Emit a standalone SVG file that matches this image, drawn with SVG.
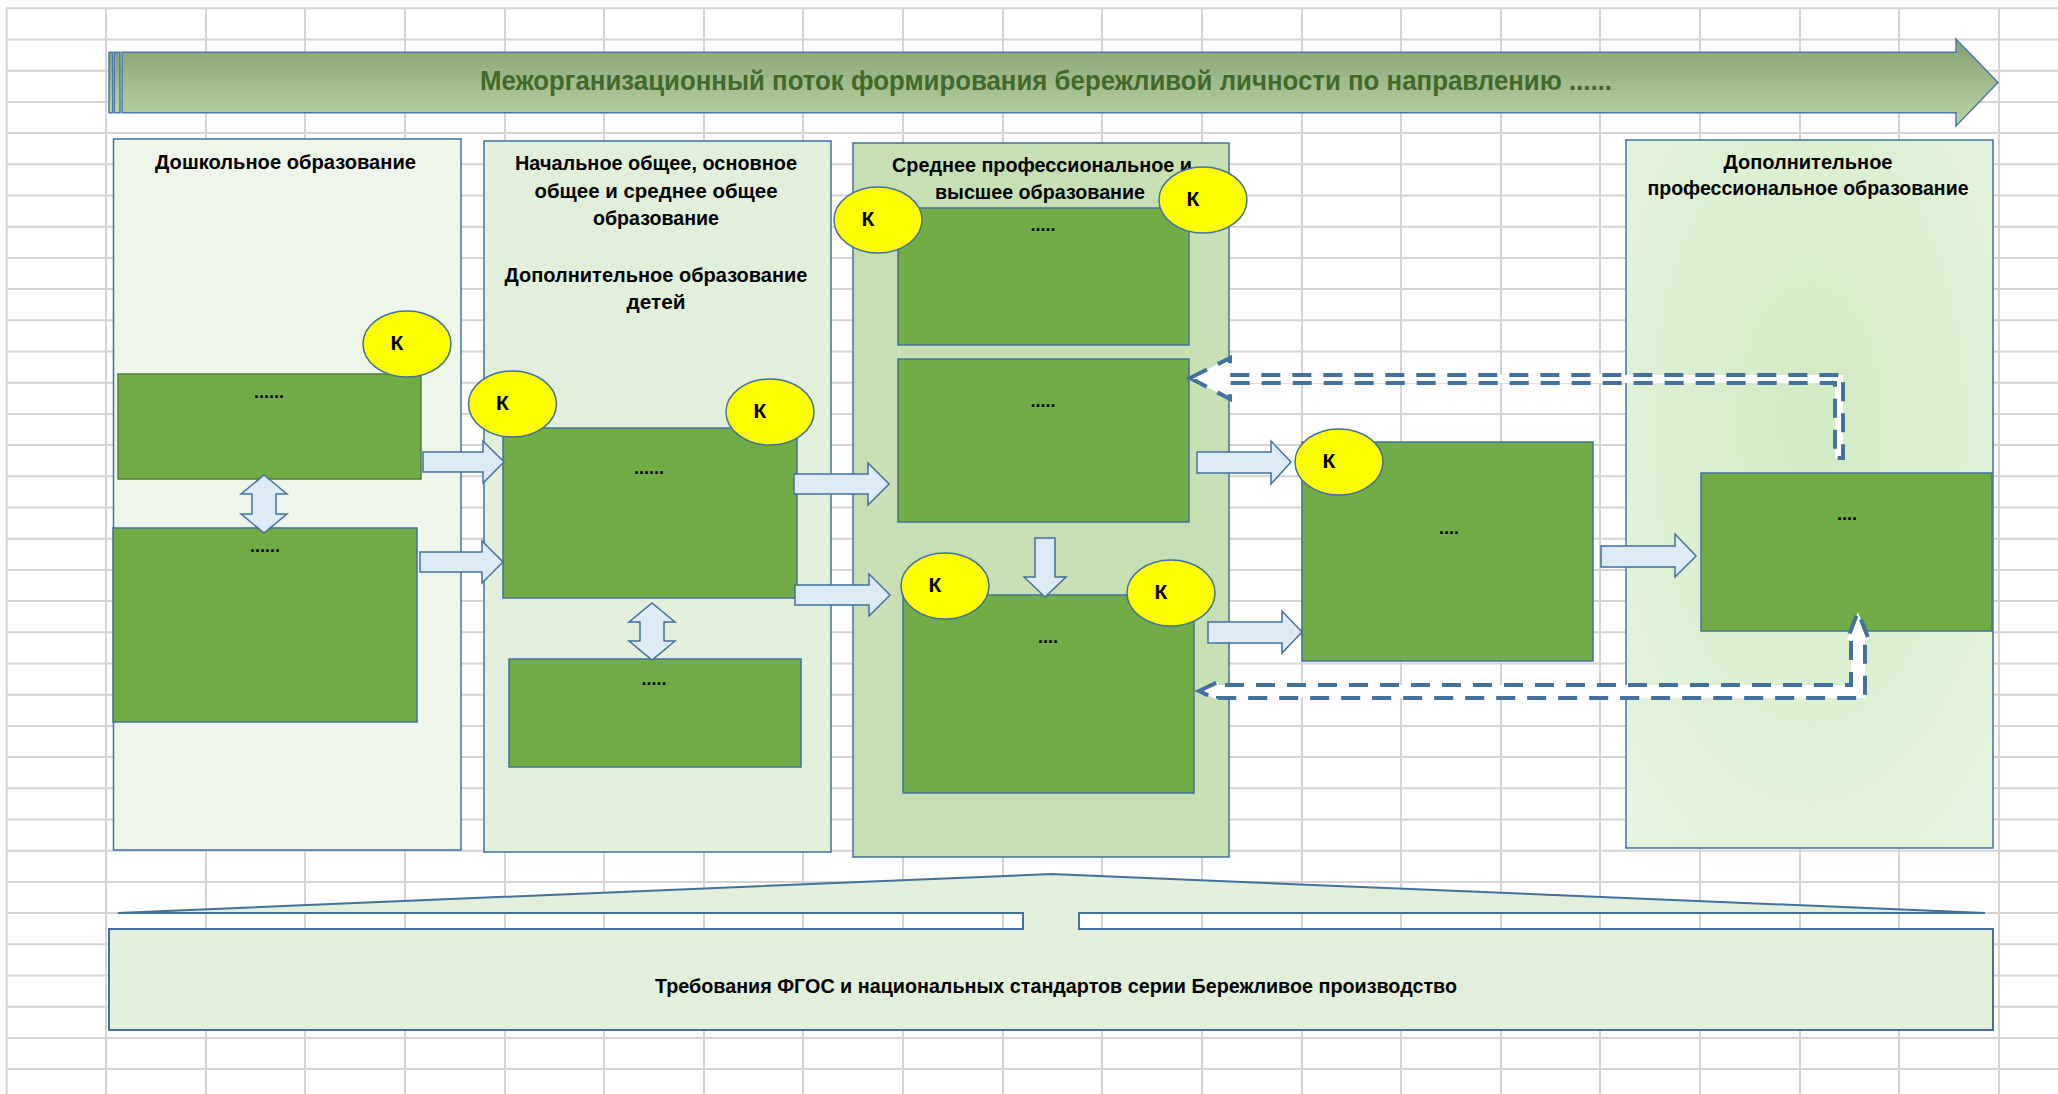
<svg xmlns="http://www.w3.org/2000/svg" width="2058" height="1094" viewBox="0 0 2058 1094">
<defs>
<linearGradient id="hdr" x1="0" y1="0" x2="0" y2="1"><stop offset="0" stop-color="#84a073"/><stop offset="1" stop-color="#bad7a2"/></linearGradient>
<radialGradient id="p4g" cx="0.5" cy="0.4" r="0.75"><stop offset="0" stop-color="#d0ebc2"/><stop offset="1" stop-color="#e7f4e0"/></radialGradient>
</defs>
<style>
.grid{stroke:#d4d4d4;stroke-width:2;fill:none}
.panel{stroke:#41719C;stroke-width:1.5}
.box{fill:#70AD47;stroke:#41719C;stroke-width:1.5}
.boxg{fill:#70AD47;stroke:#507E32;stroke-width:1.5}
.k{fill:#FFFF00;stroke:#41719C;stroke-width:1.5}
.blk{fill:#DDEBF7;stroke:#41719C;stroke-width:1.5}
.dash{fill:#fff;stroke:#41719C;stroke-width:4;stroke-dasharray:19 12}
.t{font-family:"Liberation Sans",Arial,sans-serif;font-weight:bold;fill:#000;text-anchor:middle}
.title{font-size:21px}
.dots{font-size:18px}
.kt{font-size:21px}
</style>

<g id="grid">
<path class="grid" d="M6.7,8 V1094 M106,8 V1094 M206,8 V1094 M305,8 V1094 M405,8 V1094 M505,8 V1094 M604,8 V1094 M704,8 V1094 M803,8 V1094 M903,8 V1094 M1003,8 V1094 M1102,8 V1094 M1202,8 V1094 M1302,8 V1094 M1401,8 V1094 M1501,8 V1094 M1600,8 V1094 M1700,8 V1094 M1800,8 V1094 M1899,8 V1094 M1999,8 V1094
M6,8.3 H2058 M6,39.5 H2058 M6,70.7 H2058 M6,101.9 H2058 M6,133.1 H2058 M6,164.3 H2058 M6,195.5 H2058 M6,226.7 H2058 M6,257.9 H2058 M6,289.1 H2058 M6,320.3 H2058 M6,351.5 H2058 M6,382.7 H2058 M6,413.9 H2058 M6,445.1 H2058 M6,476.3 H2058 M6,507.5 H2058 M6,538.7 H2058 M6,569.9 H2058 M6,601.1 H2058 M6,632.3 H2058 M6,663.5 H2058 M6,694.7 H2058 M6,725.9 H2058 M6,757.1 H2058 M6,788.3 H2058 M6,819.5 H2058 M6,850.7 H2058 M6,881.9 H2058 M6,913.1 H2058 M6,944.3 H2058 M6,975.5 H2058 M6,1006.7 H2058 M6,1037.9 H2058 M6,1069.1 H2058"/>
</g>

<g id="header">
<rect x="109" y="52.3" width="3.7" height="60.4" fill="url(#hdr)" stroke="#4a78a8" stroke-width="1.5"/>
<rect x="114.3" y="52.3" width="5.7" height="60.4" fill="url(#hdr)" stroke="#4a78a8" stroke-width="1.5"/>
<path d="M122,52.3 H1956 V39 L1998,82.5 L1956,126 V112.7 H122 Z" fill="url(#hdr)" stroke="#4a78a8" stroke-width="1.5"/>
<text class="t" x="1046" y="90" font-size="27" style="fill:#416a2a" textLength="1132" lengthAdjust="spacingAndGlyphs">Межорганизационный поток формирования бережливой личности по направлению ......</text>
</g>

<g id="panel-preschool">
<rect class="panel" x="113.5" y="139" width="347.5" height="711" fill="#eef5ea"/>
<text class="t title" x="285.5" y="169" textLength="261" lengthAdjust="spacingAndGlyphs">Дошкольное образование</text>
</g>
<g id="panel-school">
<rect class="panel" x="484" y="141" width="347" height="711" fill="#e2efda"/>
<text class="t title" x="656" y="170" textLength="282" lengthAdjust="spacingAndGlyphs">Начальное общее, основное</text>
<text class="t title" x="656" y="198" textLength="243" lengthAdjust="spacingAndGlyphs">общее и среднее общее</text>
<text class="t title" x="656" y="225" textLength="126" lengthAdjust="spacingAndGlyphs">образование</text>
<text class="t title" x="656" y="282" textLength="303" lengthAdjust="spacingAndGlyphs">Дополнительное образование</text>
<text class="t title" x="656" y="309" textLength="59" lengthAdjust="spacingAndGlyphs">детей</text>
</g>
<g id="panel-prof">
<rect class="panel" x="853" y="143" width="376" height="714" fill="#c6e0b4"/>
<text class="t title" x="1042" y="172" textLength="300" lengthAdjust="spacingAndGlyphs">Среднее профессиональное и</text>
<text class="t title" x="1040" y="199" textLength="210" lengthAdjust="spacingAndGlyphs">высшее образование</text>
</g>
<g id="panel-dpo">
<rect class="panel" x="1626" y="140" width="367" height="708" fill="url(#p4g)"/>
<text class="t title" x="1808" y="169" textLength="169" lengthAdjust="spacingAndGlyphs">Дополнительное</text>
<text class="t title" x="1808" y="195" textLength="321" lengthAdjust="spacingAndGlyphs">профессиональное образование</text>
</g>

<g id="box-a1"><rect class="boxg" x="118" y="374" width="303" height="105"/><text class="t dots" x="269" y="398">......</text></g>
<g id="box-a2"><rect class="box" x="113" y="528" width="304" height="194"/><text class="t dots" x="265" y="552">......</text></g>
<g id="box-b1"><rect class="box" x="503" y="428" width="294" height="170"/><text class="t dots" x="649" y="474">......</text></g>
<g id="box-b2"><rect class="box" x="509" y="659" width="292" height="108"/><text class="t dots" x="654" y="685">.....</text></g>
<g id="box-c1"><rect class="box" x="898" y="208" width="291" height="137"/><text class="t dots" x="1043" y="231">.....</text></g>
<g id="box-c2"><rect class="box" x="898" y="359" width="291" height="163"/><text class="t dots" x="1043" y="407">.....</text></g>
<g id="box-c3"><rect class="box" x="903" y="595" width="291" height="198"/><text class="t dots" x="1048" y="643">....</text></g>
<g id="box-d"><rect class="box" x="1302" y="442" width="291" height="219"/><text class="t dots" x="1449" y="534">....</text></g>
<g id="box-e"><rect class="box" x="1701" y="473" width="291" height="158"/><text class="t dots" x="1847" y="520">....</text></g>

<g id="connectors">
<path class="blk" d="M423,452 H483 V441 L504,462 L483,483 V472 H423 Z"/>
<path class="blk" d="M420,552 H482 V541 L503,562 L482,583 V572 H420 Z"/>
<path class="blk" d="M794,474 H868 V463 L889,484 L868,505 V494 H794 Z"/>
<path class="blk" d="M795,585 H869 V574 L890,595 L869,616 V605 H795 Z"/>
<path class="blk" d="M1197,452 H1271 V441 L1291,462 L1271,484 V473 H1197 Z"/>
<path class="blk" d="M1208,622 H1282 V611 L1302,632 L1282,653 V643 H1208 Z"/>
<path class="blk" d="M1601,546 H1675 V534 L1696,556 L1675,577 V567 H1601 Z"/>
<path class="blk" d="M1035,538 H1055 V577 H1066 L1045,597 L1024,577 H1035 Z"/>
<path class="blk" d="M264,475 L287,494 H276 V514 H287 L264,533 L241,514 H252 V494 H241 Z"/>
<path class="blk" d="M652,603 L675,622 H664 V641 H675 L652,660 L629,641 H640 V622 H629 Z"/>
<path class="dash" d="M1190,378 L1230,358 V375 H1843 V458 H1835 V383 H1230 V399 Z"/>
<path class="dash" d="M1199,691 L1218,682 V685 H1851 V640 H1847 L1858,612 L1869,640 H1865 V698 H1218 V700 Z"/>
</g>

<g id="k1"><ellipse class="k" cx="407" cy="344" rx="44" ry="33"/><text class="t kt" x="397" y="350">К</text></g>
<g id="k2"><ellipse class="k" cx="512.5" cy="404" rx="44" ry="33"/><text class="t kt" x="502.5" y="410">К</text></g>
<g id="k3"><ellipse class="k" cx="770" cy="412" rx="44" ry="33"/><text class="t kt" x="760" y="418">К</text></g>
<g id="k4"><ellipse class="k" cx="878" cy="220" rx="44" ry="33"/><text class="t kt" x="868" y="226">К</text></g>
<g id="k5"><ellipse class="k" cx="1203" cy="200" rx="44" ry="33"/><text class="t kt" x="1193" y="206">К</text></g>
<g id="k6"><ellipse class="k" cx="945" cy="586" rx="44" ry="33"/><text class="t kt" x="935" y="592">К</text></g>
<g id="k7"><ellipse class="k" cx="1171" cy="593" rx="44" ry="33"/><text class="t kt" x="1161" y="599">К</text></g>
<g id="k8"><ellipse class="k" cx="1339" cy="462" rx="44" ry="33"/><text class="t kt" x="1329" y="468">К</text></g>

<g id="standards">
<path d="M109,1030 V929 H1023 V913 H118 L1051,874 L1985,913 H1079 V929 H1993 V1030 Z" fill="#e2efda" stroke="#41719C" stroke-width="2"/>
<text class="t" x="1056" y="993" font-size="21" textLength="802" lengthAdjust="spacingAndGlyphs">Требования ФГОС и национальных стандартов серии Бережливое производство</text>
</g>
</svg>
